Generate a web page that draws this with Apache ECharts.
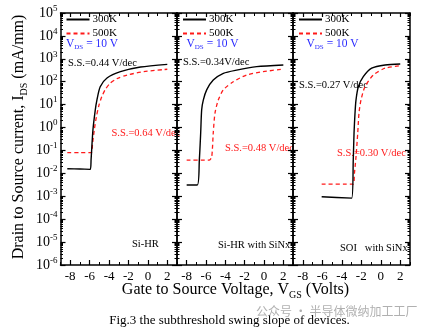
<!DOCTYPE html>
<html>
<head>
<meta charset="utf-8">
<script src="https://cdn.jsdelivr.net/npm/echarts@6/dist/echarts.min.js"></script>
<style>
  html, body { margin: 0; padding: 0; background: #fff; }
  #chart { width: 427px; height: 331px; }
</style>
</head>
<body>
<div id="chart"></div>
<script>
// Device panels and legend entries
const panelNames = ['Si-HR', 'Si-HR with SiNx', 'SOI   with SiNx'];
const seriesNames = ['300K', '500K'];

// Axis ticks
const xTickValues = [-8, -6, -4, -2, 0, 2];
const xRange = [-9, 3];
const yRange = [1e-6, 1e5];

// Si-HR transfer curves (VGS in V, IDS in mA/mm)
const vgsSiHR300 = [-8.3, -7.0, -5.94, -5.85, -5.66, -5.42, -5.25, -4.91, -4.21, -2.83, -0.76, 2.0];
const idsSiHR300 = [0.016, 0.0155, 0.015, 0.04, 0.78, 5.8, 15.8, 60, 145, 275, 437, 575];
const vgsSiHR500 = [-8.3, -7.0, -5.84, -5.7, -5.5, -5.3, -5.05, -4.75, -4.4, -3.9, -3.2, -2.14, -0.42, 2.0];
const idsSiHR500 = [0.08, 0.08, 0.08, 0.2, 0.9, 3.0, 9, 22, 45, 85, 135, 196, 275, 350];

// Si-HR with SiNx
const vgsSiNx300 = [-8.0, -6.9, -6.69, -6.55, -6.45, -6.28, -5.93, -5.25, -4.21, -2.83, -0.76, 2.0];
const idsSiNx300 = [0.0031, 0.0031, 0.038, 0.58, 5.8, 15.8, 44, 118, 233, 323, 454, 540];
const vgsSiNx500 = [-8.0, -5.66, -5.41, -5.25, -5.07, -4.73, -4.21, -3.18, -1.79, -0.08, 2.0];
const idsSiNx500 = [0.038, 0.038, 0.052, 0.58, 4.3, 15.8, 44, 100, 196, 275, 357];

// SOI with SiNx
const vgsSOI300 = [-6.06, -2.98, -2.82, -2.74, -2.64, -2.54, -2.30, -1.79, -0.93, 0.44, 2.0];
const idsSOI300 = [0.00095, 0.00083, 0.038, 0.58, 4.3, 15.8, 60, 166, 390, 540, 590];
const vgsSOI500 = [-6.06, -2.82, -2.70, -2.54, -2.36, -2.23, -2.03, -1.62, -0.76, 0.44, 2.0];
const idsSOI500 = [0.0034, 0.0034, 0.01, 0.052, 0.58, 4.3, 15.8, 60, 196, 390, 500];

// Subthreshold swing labels per panel
const ssText300 = ['S.S.=0.44 V/dec', 'S.S.=0.34V/dec', 'S.S.=0.27 V/dec'];
const ssText500 = ['S.S.=0.64 V/dec', 'S.S.=0.48 V/dec', 'S.S.=0.30 V/dec'];

const curves = [
  [[vgsSiHR300, idsSiHR300], [vgsSiHR500, idsSiHR500]],
  [[vgsSiNx300, idsSiNx300], [vgsSiNx500, idsSiNx500]],
  [[vgsSOI300, idsSOI300], [vgsSOI500, idsSOI500]]
];

const SERIF = 'Liberation Serif, Times New Roman, serif';
const zip = (xs, ys) => xs.map((x, i) => [x, ys[i]]);

// Panel geometry (px)
const grids = [
  { left: 60.5, top: 13, width: 116.5, height: 252 },
  { left: 177, top: 13, width: 116, height: 252 },
  { left: 293, top: 13, width: 117, height: 252 }
];

// log-decade minor tick positions (in exponent space)
const minorLogTicks = [];
for (let n = -6; n < 5; n++) {
  for (let k = 2; k <= 9; k++) minorLogTicks.push(n + Math.log10(k));
}

const lineBlack = { color: '#000', width: 1.5 };
const xAxes = [], yAxes = [], series = [], legends = [];

grids.forEach((g, i) => {
  const xBase = { gridIndex: i, type: 'value', min: xRange[0], max: xRange[1], splitLine: { show: false } };
  // bottom axis with labels
  xAxes.push(Object.assign({}, xBase, {
    position: 'bottom',
    axisLine: { show: true, onZero: false, lineStyle: lineBlack },
    axisTick: { show: true, inside: true, length: 5, customValues: xTickValues, lineStyle: { color: '#000', width: 1.2 } },
    axisLabel: { show: true, customValues: xTickValues, color: '#000', fontFamily: SERIF, fontSize: 13, margin: 5 }
  }));
  // top frame
  xAxes.push(Object.assign({}, xBase, {
    position: 'top',
    axisLine: { show: true, onZero: false, lineStyle: lineBlack },
    axisTick: { show: true, inside: true, length: 4, customValues: xTickValues, lineStyle: { color: '#000', width: 1.2 } },
    axisLabel: { show: false }
  }));
  // minor ticks bottom / top
  ['bottom', 'top'].forEach(pos => {
    xAxes.push(Object.assign({}, xBase, {
      position: pos, interval: 1,
      axisLine: { show: false, onZero: false },
      axisTick: { show: true, inside: true, length: 3, lineStyle: { color: '#000', width: 1 } },
      axisLabel: { show: false }
    }));
  });

  const yBase = { gridIndex: i, type: 'log', logBase: 10, min: yRange[0], max: yRange[1], interval: 1, splitLine: { show: false } };
  yAxes.push(Object.assign({}, yBase, {
    position: 'left',
    axisLine: { show: true, onZero: false, lineStyle: lineBlack },
    axisTick: { show: true, inside: true, length: 5, lineStyle: { color: '#000', width: 1.2 } },
    axisLabel: {
      show: i === 0, margin: 3,
      formatter: v => '{b|10}{s|' + Math.round(Math.log10(v)) + '}',
      rich: {
        b: { fontFamily: SERIF, fontSize: 14, color: '#000', lineHeight: 18 },
        s: { fontFamily: SERIF, fontSize: 9, color: '#000', verticalAlign: 'top' }
      }
    }
  }));
  yAxes.push(Object.assign({}, yBase, {
    position: 'right',
    axisLine: { show: true, onZero: false, lineStyle: lineBlack },
    axisTick: { show: true, inside: true, length: 5, lineStyle: { color: '#000', width: 1.2 } },
    axisLabel: { show: false }
  }));
  ['left', 'right'].forEach(pos => {
    yAxes.push({
      gridIndex: i, type: 'value', min: -6, max: 5, position: pos,
      axisLine: { show: false, onZero: false },
      axisTick: { show: true, inside: true, length: 2.5, customValues: minorLogTicks, lineStyle: { color: '#000', width: 1 } },
      axisLabel: { show: false }, splitLine: { show: false }
    });
  });

  curves[i].forEach((c, j) => {
    series.push({
      name: seriesNames[j], type: 'line',
      xAxisIndex: i * 4, yAxisIndex: i * 4,
      data: zip(c[0], c[1]),
      symbol: 'none', smooth: 0.25, z: j === 0 ? 3 : 2,
      lineStyle: j === 0
        ? { color: '#000', width: 1.4 }
        : { color: '#ff1a1a', width: 1.3, type: [4, 3] },
      itemStyle: { color: j === 0 ? '#000' : '#ff1a1a' }
    });
  });

  legends.push({
    data: seriesNames, orient: 'vertical',
    left: g.left + 5, top: 14, padding: 0,
    itemWidth: 23, itemHeight: 10, itemGap: 3,
    itemStyle: { opacity: 0 },
    textStyle: { fontFamily: SERIF, fontSize: 11, color: '#000', padding: [0, 0, 0, -2] },
    selectedMode: false
  });
});

const txt = (x, y, text, fill, size, align) => ({
  type: 'text', x, y, silent: true,
  style: { text, fill, font: size + 'px ' + SERIF, textAlign: align || 'left', textVerticalAlign: 'middle' }
});

const vdsX = [66, 186.5, 306.5];
const graphic = [];
vdsX.forEach(x => {
  graphic.push({
    type: 'text', x, y: 44, silent: true,
    style: {
      text: '{v|V}{d|DS}{v| = 10 V}', textVerticalAlign: 'middle',
      rich: {
        v: { fontFamily: SERIF, fontSize: 11.5, fill: '#2a2aff', lineHeight: 14 },
        d: { fontFamily: SERIF, fontSize: 7, fill: '#2a2aff', verticalAlign: 'bottom' }
      }
    }
  });
});

// S.S. annotations
graphic.push(txt(68, 63, ssText300[0], '#000', 10.5));
graphic.push(txt(111.5, 133, ssText500[0], '#ff1a1a', 10.5));
graphic.push(txt(183, 62, ssText300[1], '#000', 10.5));
graphic.push(txt(225, 148, ssText500[1], '#ff1a1a', 10.5));
graphic.push(txt(299, 85, ssText300[2], '#000', 10.5));
graphic.push(txt(337, 153, ssText500[2], '#ff1a1a', 10.5));

// device names
graphic.push(txt(132, 244, panelNames[0], '#000', 10.5));
graphic.push(txt(218, 245, panelNames[1], '#000', 10.5));
graphic.push(txt(340, 248, panelNames[2], '#000', 10.5));

// axis titles
graphic.push({
  type: 'text', x: 235.5, y: 290, silent: true,
  style: {
    text: '{t|Gate to Source Voltage, V}{s|GS}{t| (Volts)}',
    textAlign: 'center', textVerticalAlign: 'middle',
    rich: {
      t: { fontFamily: SERIF, fontSize: 16, fill: '#000', lineHeight: 20 },
      s: { fontFamily: SERIF, fontSize: 10, fill: '#000', verticalAlign: 'bottom' }
    }
  }
});
graphic.push({
  type: 'text', x: 19, y: 137, rotation: Math.PI / 2, silent: true,
  style: {
    text: '{t|Drain to Source current, I}{s|DS}{t| (mA/mm)}',
    textAlign: 'center', textVerticalAlign: 'middle',
    rich: {
      t: { fontFamily: SERIF, fontSize: 16, fill: '#000', lineHeight: 20 },
      s: { fontFamily: SERIF, fontSize: 10, fill: '#000', verticalAlign: 'bottom' }
    }
  }
});

// caption and account mark
graphic.push(txt(229.5, 321, 'Fig.3 the subthreshold swing slope of devices.', '#000', 13, 'center'));
graphic.push({
  type: 'text', x: 256, y: 311, silent: true,
  style: { text: '公众号 · 半导体微纳加工工厂', fill: 'rgba(150,150,150,0.75)', font: '12px "Noto Sans CJK SC", sans-serif', textVerticalAlign: 'middle' }
});

const chart = echarts.init(document.getElementById('chart'), null, { renderer: 'canvas' });
chart.setOption({
  animation: false,
  backgroundColor: '#fff',
  grid: grids,
  xAxis: xAxes,
  yAxis: yAxes,
  legend: legends,
  series,
  graphic
});
</script>
</body>
</html>
